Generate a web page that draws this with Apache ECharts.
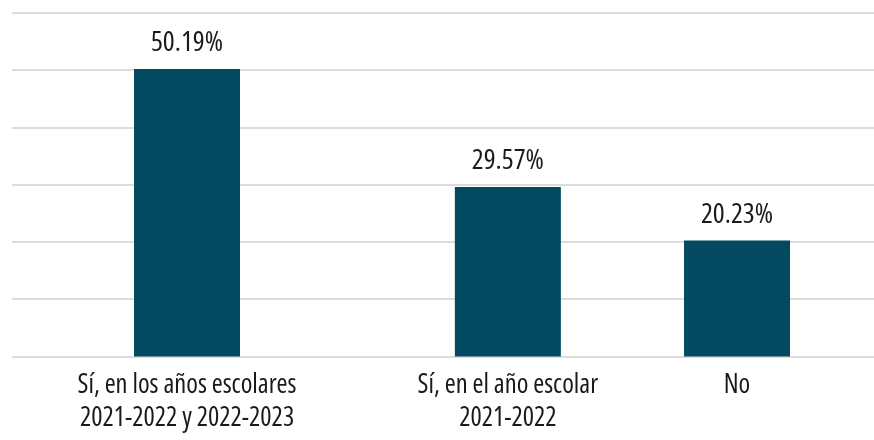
<!DOCTYPE html>
<html><head><meta charset="utf-8">
<script src="https://cdn.jsdelivr.net/npm/echarts@6/dist/echarts.min.js"></script>
<style>html,body{margin:0;padding:0;background:#fff}#c{width:874px;height:440px}</style>
</head><body><div id="c"></div>
<script>
const categories = ['Sí, en los años escolares\n2021-2022 y 2022-2023', 'Sí, en el año escolar\n2021-2022', 'No'];
const values = [50.19, 29.57, 20.23];
const yTicks = [0, 10, 20, 30, 40, 50, 60];

// Layout only: the reference spaces its bars unevenly, so each category sits in a slot of a finer band axis.
const SLOT_COUNT = 18;
const SLOT_OF = [3, 10, 15];
const slotLabels = Array(SLOT_COUNT).fill('');
const slotValues = Array(SLOT_COUNT).fill('-');
SLOT_OF.forEach((s, i) => { slotLabels[s] = categories[i]; slotValues[s] = values[i]; });

const FONT = "'Open Sans', 'DejaVu Sans Condensed', sans-serif";
const yMin = yTicks[0], yMax = yTicks[yTicks.length - 1], yStep = yTicks[1] - yTicks[0];

const chart = echarts.init(document.getElementById('c'), null, {renderer: 'canvas'});
chart.setOption({
  animation: false,
  backgroundColor: '#ffffff',
  grid: [
    {left: 12, right: 0, top: 12.7, bottom: 83.5, containLabel: false},
    {left: 26.6, right: 22.4, top: 12.7, bottom: 83.5, containLabel: false}
  ],
  xAxis: [
    {type: 'category', gridIndex: 0, data: [''], show: false},
    {type: 'category', gridIndex: 1, data: slotLabels,
     axisLine: {show: false}, axisTick: {show: false},
     axisLabel: {interval: 0, hideOverlap: false, color: '#1a1a1a', fontFamily: FONT, fontWeight: 'condensed',
                 fontSize: 26.5, lineHeight: 33, margin: 12}}
  ],
  yAxis: [
    {type: 'value', gridIndex: 0, min: yMin, max: yMax, interval: yStep,
     axisLine: {show: false}, axisTick: {show: false}, axisLabel: {show: false},
     splitLine: {show: true, lineStyle: {color: '#dcdcdc', width: 2}}},
    {type: 'value', gridIndex: 1, min: yMin, max: yMax, interval: yStep, show: false, splitLine: {show: false}}
  ],
  series: [{
    type: 'bar', xAxisIndex: 1, yAxisIndex: 1,
    data: slotValues,
    barWidth: 106,
    itemStyle: {color: '#034a60'},
    label: {show: true, position: 'top', distance: 12, color: '#1a1a1a', fontFamily: FONT, fontWeight: 'condensed', fontSize: 28,
            formatter: p => p.value.toFixed(2) + '%'}
  }]
});
</script></body></html>
